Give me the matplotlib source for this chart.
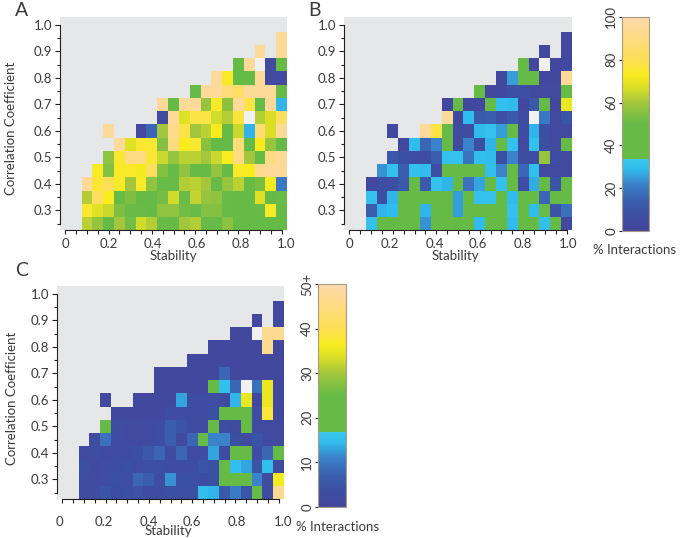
import numpy as np
import matplotlib
matplotlib.use("Agg")
import matplotlib.pyplot as plt
from matplotlib.colors import LinearSegmentedColormap, Normalize
from matplotlib.transforms import ScaledTranslation

plt.rcParams['font.family'] = ['Lato', 'DejaVu Sans']

W, H = 685, 538
TEXT = '#3a3a3c'
BG = '#e6e7e8'

stability = [round(0.10 + 0.05 * i, 2) for i in range(19)]
correlation = [0.95, 0.90, 0.85, 0.80, 0.75, 0.70, 0.65, 0.60, 0.55, 0.50, 0.45, 0.40, 0.35, 0.30, 0.25]

n = np.nan
x = -1  # cells drawn lighter than the background

# rows run from correlation 0.95 down to 0.25
panel_a = [
    [n, n, n, n, n, n, n, n, n, n, n, n, n, n, n, n, n, n, 95],
    [n, n, n, n, n, n, n, n, n, n, n, n, n, n, n, n, 95, n, 95],
    [n, n, n, n, n, n, n, n, n, n, n, n, n, n, 46, 95, x, 3, 46],
    [n, n, n, n, n, n, n, n, n, n, n, n, 95, 74, 46, 47, 95, 3, 3],
    [n, n, n, n, n, n, n, n, n, n, 46, 95, 95, 88, 84, 95, 95, 95, 46],
    [n, n, n, n, n, n, n, 95, 46, 95, 95, 58, 74, 56, 95, 78, 47, 95, 28],
    [n, n, n, n, n, n, n, 3, 95, 68, 78, 78, 66, 62, 77, x, 62, 67, 82],
    [n, n, 95, n, n, 3, 16, 60, 92, 78, 60, 63, 73, 49, 65, 28, 88, 67, 95],
    [n, n, n, 95, 68, 75, 75, 55, 90, 73, 75, 56, 47, 47, 88, 48, 73, 58, 47],
    [n, n, 57, 75, 90, 90, 76, 65, 58, 63, 63, 60, 65, 73, 90, 60, 46, 90, 95],
    [n, 74, 55, 74, 74, 72, 82, 55, 48, 57, 46, 47, 58, 48, 74, 73, 92, 95, 95],
    [95, 76, 80, 74, 60, 74, 57, 50, 50, 62, 63, 60, 50, 58, 63, 47, 53, 72, 20],
    [62, 82, 73, 46, 54, 48, 46, 52, 66, 50, 64, 58, 57, 50, 46, 46, 68, 46, 50],
    [75, 68, 65, 54, 50, 50, 45, 57, 57, 52, 50, 55, 55, 50, 46, 46, 50, 74, 46],
    [63, 58, 47, 60, 52, 66, 62, 50, 48, 60, 62, 46, 46, 56, 44, 46, 46, 44, 46],
]

panel_b = [
    [n, n, n, n, n, n, n, n, n, n, n, n, n, n, n, n, n, n, 2],
    [n, n, n, n, n, n, n, n, n, n, n, n, n, n, n, n, 2, n, 2],
    [n, n, n, n, n, n, n, n, n, n, n, n, n, n, 45, 2, x, 2, 2],
    [n, n, n, n, n, n, n, n, n, n, n, n, 2, 25, 45, 45, 2, 2, 95],
    [n, n, n, n, n, n, n, n, n, n, 45, 2, 2, 8, 7, 4, 3, 3, 45],
    [n, n, n, n, n, n, n, 2, 45, 2, 2, 45, 30, 29, 2, 12, 45, 2, 70],
    [n, n, n, n, n, n, n, 95, 2, 29, 13, 14, 8, 12, 6, x, 20, 3, 10],
    [n, n, 2, n, n, 95, 78, 45, 6, 6, 29, 31, 25, 45, 6, 28, 7, 3, 3],
    [n, n, n, 2, 29, 16, 22, 45, 5, 22, 7, 28, 45, 31, 3, 31, 7, 3, 45],
    [n, n, 11, 8, 6, 6, 14, 31, 31, 19, 30, 29, 8, 22, 6, 6, 58, 6, 3],
    [n, 24, 31, 14, 31, 29, 7, 45, 45, 45, 45, 30, 22, 45, 16, 30, 3, 3, 3],
    [2, 7, 7, 13, 45, 13, 31, 28, 45, 18, 26, 45, 31, 45, 6, 27, 45, 10, 45],
    [31, 7, 28, 45, 45, 45, 45, 45, 25, 45, 31, 31, 45, 29, 45, 45, 16, 45, 45],
    [14, 28, 29, 45, 45, 28, 45, 45, 25, 45, 45, 45, 45, 31, 45, 29, 45, 9, 18],
    [31, 45, 45, 45, 45, 24, 45, 45, 45, 45, 29, 45, 45, 29, 45, 45, 30, 45, 3],
]

# panel C uses the 0 to 50+ scale
panel_c = [
    [n, n, n, n, n, n, n, n, n, n, n, n, n, n, n, n, n, n, 1],
    [n, n, n, n, n, n, n, n, n, n, n, n, n, n, n, n, 1, n, 1],
    [n, n, n, n, n, n, n, n, n, n, n, n, n, n, 1, 1, x, 47, 47],
    [n, n, n, n, n, n, n, n, n, n, n, n, 1, 1, 1, 1, 1, 47, 1],
    [n, n, n, n, n, n, n, n, n, n, 1, 1, 1, 1, 1, 1, 1, 1, 1],
    [n, n, n, n, n, n, n, 1, 1, 1, 1, 1, 1, 8, 1, 1, 1, 1, 1],
    [n, n, n, n, n, n, n, 1, 1, 1, 1, 1, 22, 15, 8, x, 9, 35, 1],
    [n, n, 1, n, n, 1, 1, 1, 1, 13, 3, 3, 3, 2, 14, 35, 1, 35, 1],
    [n, n, n, 1, 1, 1, 1, 1, 3, 3, 3, 3, 4, 22, 22, 22, 3, 38, 1],
    [n, n, 22, 3, 2, 2, 2, 3, 7, 5, 3, 3, 22, 3, 2, 22, 2, 2, 2],
    [n, 2, 9, 3, 2, 2, 2, 3, 7, 2, 8, 22, 11, 11, 4, 2, 5, 2, 2],
    [2, 3, 2, 3, 3, 4, 6, 8, 2, 8, 3, 2.5, 13, 3, 22, 22, 3, 8, 22],
    [4, 2, 3, 3, 4, 3, 4, 4, 3, 3, 3, 5, 4, 22, 15, 13, 5, 15, 2],
    [3, 2, 3, 4, 3, 8, 7, 3, 12, 4, 4, 3, 4, 22, 22, 22, 11, 3, 36],
    [3, 3, 5, 3, 4, 4.5, 3, 3, 3.5, 4, 4, 15, 14, 6, 10, 5, 22, 3, 47],
]

cbar_ticks_top = [0, 20, 40, 60, 80, 100]
cbar_labels_top = ['0', '20', '40', '60', '80', '100']
cbar_ticks_c = [0, 10, 20, 30, 40, 50]
cbar_labels_c = ['0', '10', '20', '30', '40', '50+']

cmap = LinearSegmentedColormap.from_list('interactions', [
    (0.00, '#44469b'),
    (0.08, '#3c50a3'),
    (0.14, '#3a5ead'),
    (0.22, '#3a82ca'),
    (0.29, '#30bdee'),
    (0.335, '#3cc6ee'),
    (0.335, '#66bb46'),
    (0.50, '#66bb46'),
    (0.60, '#a3c63c'),
    (0.67, '#d9df26'),
    (0.73, '#f8ec1f'),
    (0.80, '#fedf55'),
    (1.00, '#fdd8ac'),
], N=512)
cmap.set_under('#f1f1f2')
cmap.set_bad(BG)


def px_axes(fig, left, top, right, bottom):
    return fig.add_axes([left / W, 1 - bottom / H, (right - left) / W, (bottom - top) / H])


def draw_panel(fig, box, data, vmax, label_shift, label_pad=3):
    ax = px_axes(fig, *box)
    ax.set_facecolor(BG)
    x_edges = np.arange(20) * 0.05 + 0.075
    y_edges = 0.975 - np.arange(16) * 0.05
    mesh = ax.pcolormesh(x_edges, y_edges, np.array(data, dtype=float), cmap=cmap,
                         norm=Normalize(0, vmax), linewidth=0, antialiased=False)
    ax.set_xlim(-0.025, 1.025)
    ax.set_ylim(0.226, 1.03)

    for side in ['top', 'right']:
        ax.spines[side].set_visible(False)
    ax.spines['left'].set_bounds(0.25, 1.0)
    ax.spines['bottom'].set_bounds(0, 1.0)
    ax.spines['left'].set_color('#231f20')
    ax.spines['bottom'].set_color('#231f20')

    ax.set_xticks(np.arange(0, 1.01, 0.2))
    ax.set_xticklabels(['0', '0.2', '0.4', '0.6', '0.8', '1.0'])
    ax.set_xticks(np.arange(0, 1.01, 0.05), minor=True)
    ax.set_yticks(np.arange(0.3, 1.01, 0.1))
    ax.set_yticklabels([f'{v:.1f}' for v in np.arange(0.3, 1.01, 0.1)])
    ax.set_yticks(np.arange(0.25, 1.01, 0.05), minor=True)
    ax.tick_params(axis='both', which='major', labelsize=9.5, labelcolor=TEXT, width=0.8, color='#231f20')
    ax.tick_params(axis='x', which='major', length=3, pad=label_pad)
    ax.tick_params(axis='y', which='major', length=3.5, pad=2)
    ax.tick_params(axis='x', which='minor', length=3, width=0.8, color='#231f20')
    ax.tick_params(axis='y', which='minor', length=2, width=0.8, color='#231f20')
    # x labels do not sit exactly under their ticks in the original
    for lab, dx in zip(ax.get_xticklabels(), label_shift):
        lab.set_transform(lab.get_transform() + ScaledTranslation(dx / 100, 0, fig.dpi_scale_trans))
    return ax, mesh


def draw_cbar(fig, box, mesh, ticks, labels):
    cax = px_axes(fig, *box)
    cb = fig.colorbar(mesh, cax=cax)
    cb.outline.set_edgecolor('#a89c85')
    cb.outline.set_linewidth(0.8)
    cax.yaxis.set_ticks_position('left')
    cax.set_yticks(ticks)
    cax.set_yticklabels(labels, rotation=90, va='center')
    cax.tick_params(axis='y', labelsize=9.5, labelcolor=TEXT, length=2.5, width=0.8, color='#231f20', pad=1)
    return cb


def px_text(fig, px, py, s, size=9.5, rotation=0):
    fig.text(px / W, 1 - py / H, s, fontsize=size, color=TEXT, ha='center', va='center', rotation=rotation)


fig = plt.figure(figsize=(W / 100, H / 100), dpi=100)

ax_a, mesh_a = draw_panel(fig, (60, 17, 287, 230), panel_a, 100, [0, 0, 1, 1.5, 2, 4.5])
ax_b, mesh_b = draw_panel(fig, (344, 17, 572, 230), panel_b, 100, [0, -3, -1, -1.5, 0, 1.5])
ax_c, mesh_c = draw_panel(fig, (57, 286, 284, 499), panel_c, 50, [-3, -2, 0, 0, 1, 5], label_pad=9)

draw_cbar(fig, (622, 17, 649, 231), mesh_a, cbar_ticks_top, cbar_labels_top)
draw_cbar(fig, (318, 284, 346, 507), mesh_c, cbar_ticks_c, cbar_labels_c)

px_text(fig, 22, 11, 'A', size=14)
px_text(fig, 315, 11, 'B', size=14)
px_text(fig, 22, 271, 'C', size=14)

px_text(fig, 11, 128, 'Correlation Coefficient', size=9.5, rotation=90)
px_text(fig, 12, 398, 'Correlation Coefficient', size=9.5, rotation=90)
px_text(fig, 173, 256, 'Stability', size=9.5)
px_text(fig, 455, 256, 'Stability', size=9.5)
px_text(fig, 168, 531, 'Stability', size=9.5)
px_text(fig, 635, 250, '% Interactions', size=9.5)
px_text(fig, 338, 527, '% Interactions', size=9.5)

fig.savefig('out.png', dpi=100)
